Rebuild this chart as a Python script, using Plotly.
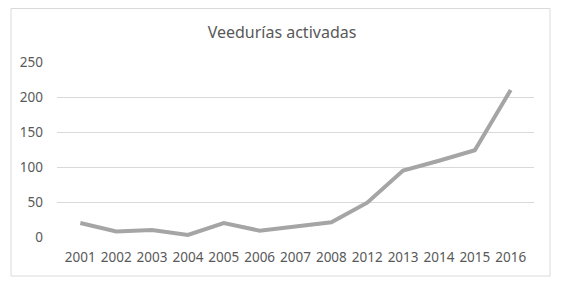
import plotly.graph_objects as go

years = ["2001", "2002", "2003", "2004", "2005", "2006", "2007", "2008",
         "2012", "2013", "2014", "2015", "2016"]
values = [20, 8, 10, 3, 20, 9, 15, 21, 49, 95, 109, 124, 210]
y_ticks = [0, 50, 100, 150, 200, 250]
title_text = "Veedurías activadas"

# page has an 8px body margin, so the figure is offset by 8px
OFF = 8
W, H = 561 - OFF, 290 - OFF
L, R, T, B = 57 - OFF, 27, 62 - OFF, 53
pw, ph = W - L - R, H - T - B

fig = go.Figure()
fig.add_trace(go.Scatter(
    x=years, y=values, mode="lines",
    line=dict(color="#a5a5a5", width=4),
    hoverinfo="skip", showlegend=False,
))

def px_x(p):
    return (p - OFF - L) / pw

def px_y(p):
    return (H - B - (p - OFF)) / ph

fig.update_layout(
    width=W, height=H,
    margin=dict(l=L, r=R, t=T, b=B),
    paper_bgcolor="white", plot_bgcolor="white",
    font=dict(family="Noto Sans", size=13.5, color="#595959"),
    title=dict(text=title_text, x=(282 - OFF) / W, xanchor="center",
               xref="container",
               y=1 - (32 - OFF) / H, yanchor="middle",
               font=dict(family="Noto Sans", size=16, color="#595959")),
    xaxis=dict(type="category", range=[-0.65, len(years) - 1 + 0.65],
               showgrid=False, zeroline=False, showline=False,
               ticks="", ticklabelstandoff=10, fixedrange=True),
    yaxis=dict(range=[0, 250], tickvals=y_ticks, showgrid=True,
               gridcolor="#d9d9d9", gridwidth=1, zeroline=False,
               showline=False, ticks="", ticklabelstandoff=13,
               fixedrange=True),
    shapes=[dict(type="rect", xref="paper", yref="paper",
                 x0=px_x(11), x1=px_x(550), y0=px_y(276), y1=px_y(8.5),
                 line=dict(color="#d9d9d9", width=1), layer="below")],
)

fig.write_html("out.html")
